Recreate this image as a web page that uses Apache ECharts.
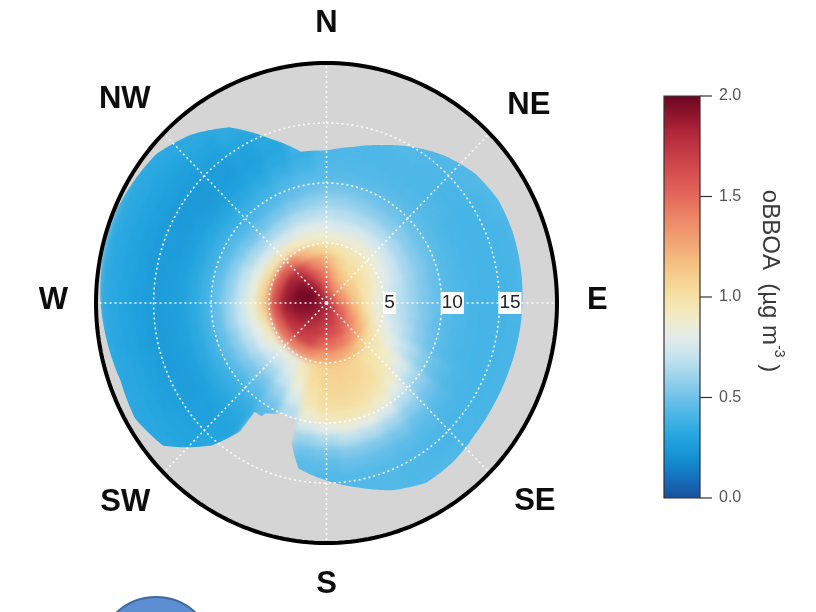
<!DOCTYPE html>
<html>
<head>
<meta charset="utf-8">
<script src="https://cdn.jsdelivr.net/npm/echarts@6/dist/echarts.min.js"></script>
<style>
  html, body { margin: 0; padding: 0; background: #ffffff; }
  #wrap { position: relative; width: 816px; height: 612px; overflow: hidden; }
  .layer { position: absolute; left: 0; top: 0; width: 816px; height: 612px; }
  /* the concentration surface is a smoothed raster */
  #surface { filter: blur(3.5px); }
</style>
</head>
<body>
<div id="wrap">
  <div id="disk" class="layer"></div>
  <div id="surface" class="layer"></div>
  <div id="frame" class="layer"></div>
</div>
<script>
// Wind direction bins (degrees, clockwise from north); each bin is 10 degrees wide
const directions = [0, 10, 20, 30, 40, 50, 60, 70, 80, 90, 100, 110, 120, 130, 140, 150, 160, 170,
                    180, 190, 200, 210, 220, 230, 240, 250, 260, 270, 280, 290, 300, 310, 320, 330, 340, 350];
// Wind speed rings are 1 unit wide, starting at 0
const speedStep = 1;
const maxSpeed = 20;

// oBBOA (µg m-3) per direction (rows) and speed ring (columns, 0-1, 1-2, ...)
const oBBOA = [
  [1.75,1.55,1.40,1.25,1.05, 0.88,0.78,0.68,0.60,0.52, 0.45,0.43,0.42],
  [1.70,1.45,1.30,1.15,1.00, 0.86,0.76,0.67,0.59,0.52, 0.45,0.43,0.42,0.42],
  [1.65,1.40,1.20,1.08,0.98, 0.86,0.76,0.66,0.58,0.51, 0.45,0.43,0.42,0.42,0.43],
  [1.60,1.35,1.15,1.03,0.95, 0.86,0.76,0.66,0.57,0.50, 0.45,0.43,0.42,0.42,0.43,0.43],
  [1.60,1.32,1.12,1.02,0.95, 0.86,0.75,0.65,0.56,0.50, 0.45,0.43,0.42,0.42,0.42,0.43,0.43],
  [1.60,1.30,1.12,1.02,0.93, 0.84,0.74,0.64,0.56,0.50, 0.45,0.43,0.42,0.41,0.41,0.42,0.43],
  [1.60,1.30,1.12,1.00,0.90, 0.80,0.72,0.63,0.55,0.49, 0.45,0.42,0.41,0.40,0.40,0.41,0.42,0.43],
  [1.60,1.32,1.12,0.98,0.88, 0.78,0.70,0.62,0.55,0.49, 0.44,0.42,0.41,0.40,0.40,0.40,0.41,0.42],
  [1.60,1.35,1.12,0.97,0.85, 0.75,0.68,0.60,0.54,0.48, 0.44,0.42,0.41,0.40,0.40,0.40,0.41,0.42],
  [1.62,1.38,1.15,0.98,0.84, 0.74,0.67,0.60,0.53,0.48, 0.44,0.42,0.41,0.40,0.40,0.40,0.41,0.42],
  [1.65,1.42,1.20,1.00,0.85, 0.75,0.68,0.61,0.54,0.48, 0.44,0.42,0.41,0.40,0.40,0.40,0.41],
  [1.68,1.48,1.28,1.08,0.90, 0.80,0.72,0.64,0.56,0.50, 0.45,0.42,0.41,0.40,0.40,0.40,0.41],
  [1.70,1.52,1.35,1.18,0.98, 0.88,0.80,0.72,0.64,0.56, 0.49,0.45,0.42,0.41,0.40,0.40,0.41],
  [1.72,1.58,1.42,1.25,1.05, 0.95,0.90,0.84,0.76,0.66, 0.57,0.50,0.45,0.42,0.41,0.41,0.41,0.42],
  [1.74,1.62,1.48,1.32,1.12, 1.00,0.98,0.95,0.88,0.78, 0.66,0.56,0.48,0.44,0.42,0.41,0.42,0.43],
  [1.75,1.65,1.55,1.40,1.20, 1.05,1.04,1.02,0.97,0.88, 0.76,0.62,0.52,0.46,0.43,0.42,0.42,0.43],
  [1.76,1.68,1.60,1.45,1.25, 1.08,1.07,1.05,1.02,0.94, 0.82,0.66,0.54,0.47,0.44,0.43,0.43],
  [1.78,1.72,1.62,1.48,1.28, 1.10,1.08,1.06,1.03,0.96, 0.84,0.68,0.55,0.48,0.44,0.43,0.43],
  [1.80,1.74,1.65,1.50,1.30, 1.10,1.08,1.06,1.03,0.95, 0.80,0.64,0.52,0.46,0.43,0.43],
  [1.82,1.76,1.68,1.52,1.30, 1.05,1.03,1.00,0.96,0.88, 0.76,0.60,0.50,0.45,0.44],
  [1.84,1.78,1.72,1.65,1.38, 0.95,0.90,0.84,0.76,0.66],
  [1.85,1.80,1.74,1.68,1.40, 0.85,0.78,0.70,0.60,0.52, 0.45],
  [1.86,1.84,1.78,1.70,1.42, 0.82,0.72,0.62,0.52,0.45, 0.38,0.34,0.31,0.30,0.30,0.31,0.31],
  [1.87,1.87,1.82,1.72,1.45, 0.85,0.74,0.62,0.52,0.44, 0.37,0.33,0.30,0.28,0.28,0.29,0.30,0.31,0.32],
  [1.88,1.90,1.86,1.75,1.48, 0.90,0.78,0.66,0.55,0.46, 0.38,0.33,0.29,0.27,0.27,0.28,0.29,0.31,0.32,0.33],
  [1.90,1.93,1.90,1.80,1.52, 0.95,0.80,0.68,0.57,0.47, 0.39,0.33,0.29,0.27,0.26,0.27,0.29,0.31,0.32,0.33],
  [1.90,1.95,1.93,1.85,1.58, 1.05,0.84,0.72,0.60,0.48, 0.39,0.33,0.29,0.27,0.26,0.26,0.28,0.30,0.32,0.34],
  [1.90,1.97,1.95,1.88,1.62, 1.10,0.86,0.72,0.60,0.48, 0.39,0.33,0.29,0.27,0.26,0.26,0.28,0.30,0.32,0.34],
  [1.90,1.98,1.97,1.88,1.60, 1.08,0.84,0.70,0.58,0.47, 0.39,0.33,0.29,0.27,0.26,0.26,0.28,0.30,0.32,0.34],
  [1.90,1.98,1.97,1.86,1.58, 1.05,0.82,0.68,0.56,0.45, 0.38,0.32,0.28,0.26,0.26,0.26,0.28,0.30,0.32,0.34],
  [1.90,1.97,1.95,1.84,1.55, 1.00,0.78,0.64,0.53,0.44, 0.37,0.32,0.28,0.26,0.25,0.26,0.28,0.30,0.32,0.33],
  [1.88,1.95,1.90,1.80,1.50, 0.98,0.76,0.62,0.50,0.42, 0.36,0.31,0.27,0.25,0.25,0.26,0.28,0.30,0.32,0.33],
  [1.86,1.90,1.82,1.72,1.42, 0.95,0.76,0.62,0.50,0.42, 0.37,0.32,0.28,0.26,0.26,0.28,0.30,0.32,0.33],
  [1.83,1.82,1.70,1.55,1.25, 0.92,0.76,0.63,0.52,0.44, 0.39,0.34,0.30,0.28,0.29,0.31,0.33,0.34],
  [1.80,1.72,1.58,1.40,1.15, 0.90,0.78,0.66,0.55,0.47, 0.42,0.37,0.33,0.31,0.32,0.33],
  [1.78,1.62,1.48,1.32,1.10, 0.89,0.78,0.67,0.58,0.50, 0.44,0.40,0.37,0.38]
];

// Highest wind speed with data in each direction bin
const coverage = [12.7, 13.2, 14.0, 15.0, 16.0, 16.8, 17.2, 17.2, 17.1, 17.0, 16.9, 16.8,
                  16.8, 16.9, 17.2, 17.3, 16.6, 15.6, 14.8, 14.0, 9.8, 10.6, 15.5, 18.5,
                  19.2, 19.0, 19.3, 19.6, 19.8, 19.9, 19.6, 19.3, 18.3, 16.9, 14.6, 12.8];

const speedRings = [5, 10, 15];
const spokes = [0, 45, 90, 135, 180, 225, 270, 315];
const compassNames = ['N', 'NE', 'E', 'SE', 'S', 'SW', 'W', 'NW'];
const colorTicks = [0, 0.5, 1.0, 1.5, 2.0];
const colorMin = 0;
const colorMax = 2;
const palette = ['#1a4f9a', '#1470bd', '#1590d2', '#22a4de', '#45b4e6', '#6fc2ea', '#9ad2ec',
                 '#c4e3ef', '#e4ecea', '#f1ebc6', '#f5e2a6', '#f5cf8e', '#f4b77c', '#f19d70',
                 '#ec8465', '#e4685c', '#d85250', '#c73e46', '#b42a3c', '#92152f', '#6a0522'];

// ---- geometry helpers ----
const FONT = '"Liberation Sans", Arial, Helvetica, sans-serif';
const binWidth = directions[1] - directions[0];
const halfBin = binWidth / 2;
const GREY = '#d5d5d5';

function toUV(deg, r) {
  const a = deg * Math.PI / 180;
  return [r * Math.sin(a), r * Math.cos(a)];
}
function ringPoints(api, r, n) {
  const pts = [];
  for (let k = 0; k <= n; k++) pts.push(api.coord(toUV(360 * k / n, r)));
  return pts;
}
function binOf(deg) {
  const a = ((deg % 360) + 360) % 360;
  return Math.round(a / binWidth) % directions.length;
}
// data edge: straight segments joining the coverage of neighbouring bins,
// never beyond the last speed ring that holds a value in that bin
function edgeAt(deg) {
  const t = ((deg % 360) + 360) % 360 / binWidth;
  const i = Math.floor(t) % directions.length;
  const f = t - Math.floor(t);
  const j = (i + 1) % directions.length;
  const lin = coverage[i] * (1 - f) + coverage[j] * f;
  return Math.min(lin, oBBOA[binOf(deg)].length * speedStep);
}
function pathFrom(points, reverse) {
  const pts = reverse ? points.slice().reverse() : points;
  return pts.map(function (p, k) { return (k ? 'L' : 'M') + p[0].toFixed(2) + ' ' + p[1].toFixed(2); }).join('') + 'Z';
}

// one polar cell per (direction, speed ring)
const cells = [];
directions.forEach(function (d, i) {
  oBBOA[i].forEach(function (v, j) {
    cells.push([d, j * speedStep, (j + 1) * speedStep, v]);
  });
});

// shared plotting area for the polar frame (u = east, v = north)
function polarGrid() {
  return {
    grid: [{ left: 96, top: 63, width: 461, height: 480 }],
    xAxis: [{ gridIndex: 0, type: 'value', min: -maxSpeed, max: maxSpeed, show: false }],
    yAxis: [{ gridIndex: 0, type: 'value', min: -maxSpeed, max: maxSpeed, show: false }]
  };
}

// ---- layer 1: grey plotting disk ----
const diskChart = echarts.init(document.getElementById('disk'), null, { renderer: 'canvas' });
diskChart.setOption(Object.assign(polarGrid(), {
  animation: false,
  series: [{
    type: 'custom', silent: true, data: [[maxSpeed]],
    renderItem: function (params, api) {
      return { type: 'polygon', shape: { points: ringPoints(api, api.value(0), 240) },
               style: { fill: GREY } };
    }
  }],
  graphic: [{
    type: 'circle', shape: { cx: 156, cy: 655, r: 58 },
    style: { fill: '#5b8fd1', stroke: '#41699f', lineWidth: 2 }
  }]
}));

// ---- layer 2: concentration surface ----
const surfaceChart = echarts.init(document.getElementById('surface'), null, { renderer: 'canvas' });
surfaceChart.setOption(Object.assign(polarGrid(), {
  animation: false,
  visualMap: {
    type: 'continuous', show: false, min: colorMin, max: colorMax,
    dimension: 3, seriesIndex: 0, inRange: { color: palette }
  },
  series: [{
    type: 'custom', silent: true, data: cells,
    renderItem: function (params, api) {
      const d = api.value(0), r0 = api.value(1), r1 = api.value(2);
      const last = r1 >= oBBOA[binOf(d)].length * speedStep;
      const n = 6, outer = [], inner = [];
      for (let k = 0; k <= n; k++) {
        const a = d - halfBin + binWidth * k / n;
        // outermost cells run a little past the edge; the crisp mask trims them
        const reach = Math.min(edgeAt(a) + 0.8, maxSpeed - 0.1);
        const rOut = Math.max(r0, last ? reach : Math.min(r1, reach));
        outer.push(api.coord(toUV(a, rOut)));
        inner.push(api.coord(toUV(a, r0)));
      }
      const pts = r0 > 0 ? outer.concat(inner.reverse()) : outer.concat([api.coord([0, 0])]);
      const c = api.visual('color');
      return { type: 'polygon', shape: { points: pts }, style: { fill: c, stroke: c, lineWidth: 0.8 } };
    }
  }]
}));

// ---- layer 3: no-data mask, grid, frame, labels and colour key ----
const frameChart = echarts.init(document.getElementById('frame'), null, { renderer: 'canvas' });
const frameBase = polarGrid();
frameBase.grid.push({ left: 664, top: 96, width: 36, height: 402 });
frameBase.xAxis.push({ gridIndex: 1, type: 'value', min: 0, max: 1, show: false });
frameBase.yAxis.push({
  gridIndex: 1, type: 'value', min: colorMin, max: colorMax, interval: 0.5, position: 'right',
  axisLine: { show: false },
  axisTick: { show: false },
  axisLabel: {
    show: true, margin: 19, color: '#555', fontSize: 16, fontFamily: FONT,
    formatter: function (v) { return colorTicks.indexOf(v) >= 0 ? v.toFixed(1) : ''; }
  },
  splitLine: { show: false }
});

// label anchors: [bearing, radius] in wind-speed units
const compassAnchor = [[0, 23.5], [46.5, 24.2], [89, 23.5], [132.2, 24.4],
                       [180, 23.3], [226.7, 24.0], [271, 23.7], [314.4, 24.5]];

frameChart.setOption(Object.assign(frameBase, {
  animation: false,
  graphic: [{
    type: 'text', x: 772, y: 281, rotation: -Math.PI / 2,
    style: {
      text: '{a|oBBOA  (µg m}{s|-3}{a| )}',
      align: 'center', verticalAlign: 'middle',
      rich: {
        a: { fontSize: 24, fontFamily: FONT, fill: '#3a3a3a', lineHeight: 28, verticalAlign: 'bottom' },
        s: { fontSize: 14, fontFamily: FONT, fill: '#3a3a3a', lineHeight: 28, verticalAlign: 'top' }
      }
    }
  }],
  series: [
    {
      // grey where no data were collected (disk minus the data edge),
      // plus a white collar just outside the frame
      type: 'custom', xAxisIndex: 0, yAxisIndex: 0, silent: true, z: 2,
      data: [[maxSpeed]],
      renderItem: function (params, api) {
        const R = api.value(0), n = 720;
        const rim = [], edge = [], collar = [];
        for (let k = 0; k <= n; k++) {
          const a = 360 * k / n;
          rim.push(api.coord(toUV(a, R)));
          edge.push(api.coord(toUV(a, edgeAt(a))));
          collar.push(api.coord(toUV(a, R + 1.2)));
        }
        return {
          type: 'group',
          children: [
            { type: 'path', shape: { pathData: pathFrom(collar, false) + pathFrom(rim, true) },
              style: { fill: '#ffffff' } },
            { type: 'path', shape: { pathData: pathFrom(rim, false) + pathFrom(edge, true) },
              style: { fill: GREY } }
          ]
        };
      }
    },
    {
      // dotted speed circles
      type: 'custom', xAxisIndex: 0, yAxisIndex: 0, silent: true, z: 3,
      data: speedRings.map(function (r) { return [r]; }),
      renderItem: function (params, api) {
        return { type: 'polyline', shape: { points: ringPoints(api, api.value(0), 240) },
                 style: { fill: null, stroke: 'rgba(255,255,255,0.92)', lineWidth: 1.6, lineDash: [2, 3] } };
      }
    },
    {
      // dotted direction spokes
      type: 'custom', xAxisIndex: 0, yAxisIndex: 0, silent: true, z: 3,
      data: spokes.map(function (d) { return [d]; }),
      renderItem: function (params, api) {
        const a = api.coord([0, 0]), b = api.coord(toUV(api.value(0), maxSpeed));
        return { type: 'line', shape: { x1: a[0], y1: a[1], x2: b[0], y2: b[1] },
                 style: { stroke: 'rgba(255,255,255,0.92)', lineWidth: 1.6, lineDash: [2, 3] } };
      }
    },
    {
      // outer frame
      type: 'custom', xAxisIndex: 0, yAxisIndex: 0, silent: true, z: 4,
      data: [[maxSpeed]],
      renderItem: function (params, api) {
        return { type: 'polyline', shape: { points: ringPoints(api, api.value(0), 240) },
                 style: { fill: null, stroke: '#000000', lineWidth: 4 } };
      }
    },
    {
      // speed labels along the east spoke
      type: 'custom', xAxisIndex: 0, yAxisIndex: 0, silent: true, z: 5,
      data: speedRings.map(function (r) { return [r]; }),
      renderItem: function (params, api) {
        const p = api.coord([api.value(0), 0]);
        return { type: 'text', x: p[0] - 1, y: p[1],
                 style: { text: String(api.value(0)), align: 'left', verticalAlign: 'middle',
                          font: '19px ' + FONT, fill: '#222', backgroundColor: '#ffffff', padding: [2, 1, 1, 1] } };
      }
    },
    {
      // compass labels
      type: 'custom', xAxisIndex: 0, yAxisIndex: 0, silent: true, z: 5,
      data: compassAnchor,
      renderItem: function (params, api) {
        const p = api.coord(toUV(api.value(0), api.value(1)));
        return { type: 'text', x: p[0], y: p[1] + 2,
                 style: { text: compassNames[params.dataIndex], align: 'center', verticalAlign: 'middle',
                          font: 'bold 31px ' + FONT, fill: '#0d0d0d' } };
      }
    },
    {
      // colour key bar with its tick marks
      type: 'custom', xAxisIndex: 1, yAxisIndex: 1, silent: true, z: 2,
      data: [[0, colorMin, 1, colorMax]],
      renderItem: function (params, api) {
        const tl = api.coord([api.value(0), api.value(3)]);
        const br = api.coord([api.value(2), api.value(1)]);
        const stops = palette.map(function (c, i) { return { offset: i / (palette.length - 1), color: c }; });
        const children = [{
          type: 'rect',
          shape: { x: tl[0], y: tl[1], width: br[0] - tl[0], height: br[1] - tl[1] },
          style: { fill: new echarts.graphic.LinearGradient(0, 1, 0, 0, stops), stroke: '#333', lineWidth: 1.2 }
        }];
        colorTicks.forEach(function (t) {
          const p = api.coord([api.value(2), t]);
          children.push({ type: 'line', shape: { x1: p[0], y1: p[1], x2: p[0] + 12, y2: p[1] },
                          style: { stroke: '#333', lineWidth: 1.2 } });
        });
        return { type: 'group', children: children };
      }
    }
  ]
}));
</script>
</body>
</html>
